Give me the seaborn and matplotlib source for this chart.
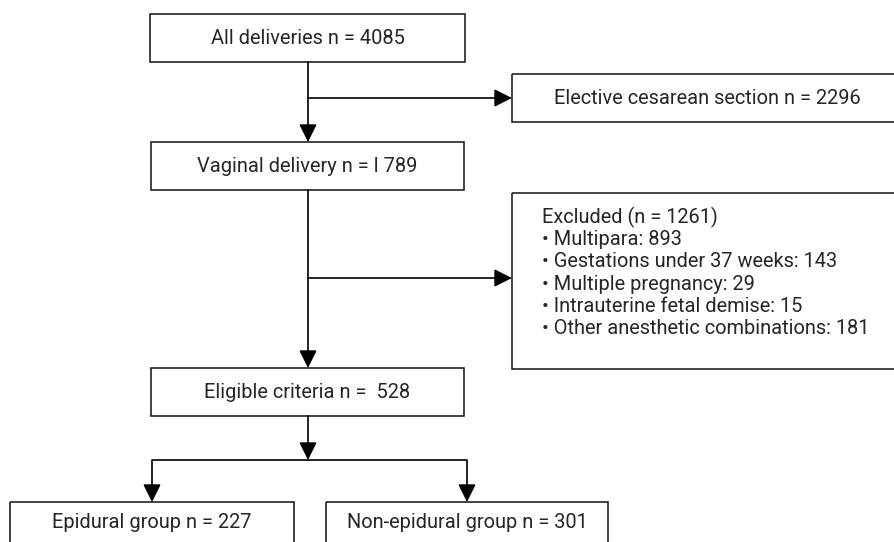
import matplotlib
matplotlib.use("Agg")
import matplotlib.pyplot as plt
from matplotlib.patches import Rectangle
import seaborn as sns

# flow steps and counts
main_labels = ["All deliveries", "Vaginal delivery", "Eligible criteria"]
main_counts = ["4085", "l 789", " 528"]
side_labels = ["Elective cesarean section"]
side_counts = ["2296"]
excluded_total = 1261
excluded_reasons = ["Multipara", "Gestations under 37 weeks", "Multiple pregnancy",
                    "Intrauterine fetal demise", "Other anesthetic combinations"]
excluded_counts = [893, 143, 29, 15, 181]
group_labels = ["Epidural group", "Non-epidural group"]
group_counts = [227, 301]

sns.set_theme(style="white")
plt.rcParams['font.family'] = ['Roboto', 'DejaVu Sans']

fig = plt.figure(figsize=(8.95, 5.42), dpi=100)
ax = fig.add_axes([0, 0, 1, 1])
ax.set_xlim(0, 895)
ax.set_ylim(542, 0)
ax.axis("off")

FS = 14.4
LW = 1.2
EC = "#222222"


def box(x0, y0, x1, y1):
    ax.add_patch(Rectangle((x0, y0), x1 - x0, y1 - y0, fill=False, ec=EC, lw=LW))


def arrow(x0, y0, x1, y1):
    ax.annotate("", xy=(x1, y1), xytext=(x0, y0),
                arrowprops=dict(arrowstyle="-|>,head_length=0.9,head_width=0.45",
                                color="black", lw=LW, shrinkA=0, shrinkB=0))


def line(xs, ys):
    ax.plot(xs, ys, color="black", lw=LW, solid_capstyle="butt")


# main column
main_boxes = [(150, 14, 465, 62), (151, 142, 464, 190), (151, 368, 464, 416)]
for (x0, y0, x1, y1), lab, n in zip(main_boxes, main_labels, main_counts):
    box(x0, y0, x1, y1)
    ax.text((x0 + x1) / 2, (y0 + y1) / 2, f"{lab} n = {n}", ha="center", va="center",
            fontsize=FS)

# side boxes
box(512, 74, 902, 122)
ax.text(707, 98, f"{side_labels[0]} n = {side_counts[0]}", ha="center", va="center", fontsize=FS)

box(512, 193, 902, 369)
lines = [f"Excluded (n = {excluded_total})"] + \
        [f"• {r}: {c}" for r, c in zip(excluded_reasons, excluded_counts)]
for i, t in enumerate(lines):
    ax.text(542, 223 + 22.2 * i, t, ha="left", va="baseline", fontsize=FS)

# connectors
xc = 308
arrow(xc, 62, xc, 142)
arrow(xc, 98, 512, 98)
arrow(xc, 190, xc, 368)
arrow(xc, 278, 512, 278)
arrow(xc, 416, xc, 460)
line([152, 467], [460, 460])

# groups
group_boxes = [(10, 502, 294, 552), (326, 502, 608, 552)]
for (x0, y0, x1, y1), lab, n, xa in zip(group_boxes, group_labels, group_counts, [152, 467]):
    arrow(xa, 460, xa, 502)
    box(x0, y0, x1, y1)
    ax.text((x0 + x1) / 2, 522, f"{lab} n = {n}", ha="center", va="center", fontsize=FS)

fig.savefig("out.png", dpi=100, facecolor="white")
